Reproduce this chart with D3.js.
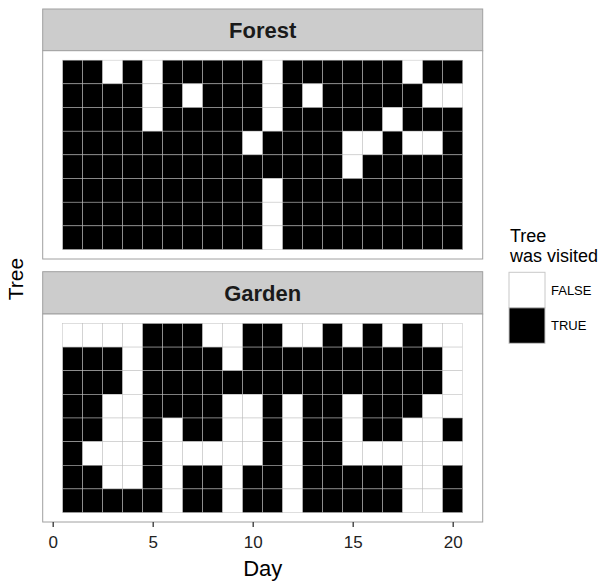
<!DOCTYPE html>
<html>
<head>
<meta charset="utf-8">
<style>
body { margin: 0; background: white; }
svg { display: block; font-family: "Liberation Sans", Arial, sans-serif; }
.tick text { fill: #222; }
</style>
</head>
<body>
<svg width="600" height="582"></svg>
<script src="https://d3js.org/d3.v7.min.js"></script>
<script>

// days on the x axis
var days = [1, 2, 3, 4, 5, 6, 7, 8, 9, 10, 11, 12, 13, 14, 15, 16, 17, 18, 19, 20];
var dayTicks = [0, 5, 10, 15, 20];
var sites = ["Forest", "Garden"];
var legendLabels = ["FALSE", "TRUE"];

// visited (1) or not (0), one row per tree, top row first
var forest = [
  [1,1,0,1,0,1,1,1,1,1,0,1,1,1,1,1,1,0,1,1],
  [1,1,1,1,0,1,0,1,1,1,0,1,0,1,1,1,1,1,0,0],
  [1,1,1,1,0,1,1,1,1,1,0,1,1,1,1,1,0,1,1,1],
  [1,1,1,1,1,1,1,1,1,0,1,1,1,1,0,0,1,0,0,1],
  [1,1,1,1,1,1,1,1,1,1,1,1,1,1,0,1,1,1,1,1],
  [1,1,1,1,1,1,1,1,1,1,0,1,1,1,1,1,1,1,1,1],
  [1,1,1,1,1,1,1,1,1,1,0,1,1,1,1,1,1,1,1,1],
  [1,1,1,1,1,1,1,1,1,1,0,1,1,1,1,1,1,1,1,1]
];

var garden = [
  [0,0,0,0,1,1,1,0,0,1,1,0,0,1,0,1,0,1,0,0],
  [1,1,1,0,1,1,1,1,0,1,1,1,1,1,1,1,1,1,1,0],
  [1,1,1,0,1,1,1,1,1,1,1,1,1,1,1,1,1,1,1,0],
  [1,1,0,0,1,1,1,1,0,0,1,0,1,1,0,1,1,1,0,0],
  [1,1,0,0,1,0,1,1,0,0,1,0,1,1,0,1,1,0,0,1],
  [1,0,0,0,1,0,0,0,0,0,1,0,1,1,0,0,0,0,0,0],
  [1,1,0,0,1,0,1,1,0,1,1,0,1,1,1,1,1,0,0,1],
  [1,1,1,1,1,0,1,1,0,1,1,0,1,1,1,1,1,0,0,1]
];

var svg = d3.select("svg");

var panelLeft = 42.7, panelRight = 482.7;
var panels = [
  { name: sites[0], rows: forest, stripTop: 9, top: 50.7, bottom: 259 },
  { name: sites[1], rows: garden, stripTop: 271.7, top: 314, bottom: 522 }
];

var x = d3.scaleLinear()
    .domain([-0.5, 21.5])
    .range([panelLeft, panelRight]);

var fill = d3.scaleOrdinal()
    .domain([0, 1])
    .range(["#ffffff", "#000000"]);

panels.forEach(function(p) {
  var nTrees = p.rows.length;
  var y = d3.scaleLinear()
      .domain([0.1, nTrees + 0.9])
      .range([p.bottom, p.top]);

  // strip
  svg.append("rect")
      .attr("x", panelLeft)
      .attr("y", p.stripTop)
      .attr("width", panelRight - panelLeft)
      .attr("height", p.top - p.stripTop)
      .attr("fill", "#cccccc")
      .attr("stroke", "#a0a0a0")
      .attr("stroke-width", 1);

  svg.append("text")
      .attr("x", (panelLeft + panelRight) / 2)
      .attr("y", (p.stripTop + p.top) / 2)
      .attr("dy", "0.36em")
      .attr("text-anchor", "middle")
      .attr("font-weight", "bold")
      .attr("font-size", 22)
      .attr("fill", "#1a1a1a")
      .text(p.name);

  // panel background
  svg.append("rect")
      .attr("x", panelLeft)
      .attr("y", p.top)
      .attr("width", panelRight - panelLeft)
      .attr("height", p.bottom - p.top)
      .attr("fill", "white");

  var cells = [];
  p.rows.forEach(function(row, i) {
    row.forEach(function(v, j) {
      cells.push({ day: days[j], tree: nTrees - i, visited: v });
    });
  });

  svg.append("g")
    .selectAll("rect")
    .data(cells)
    .enter().append("rect")
      .attr("x", function(d) { return x(d.day - 0.5); })
      .attr("y", function(d) { return y(d.tree + 0.5); })
      .attr("width", x(1) - x(0))
      .attr("height", y(0) - y(1))
      .attr("fill", function(d) { return fill(d.visited); })
      .attr("stroke", "#bebebe")
      .attr("stroke-width", 0.5);

  // panel border
  svg.append("rect")
      .attr("x", panelLeft)
      .attr("y", p.top)
      .attr("width", panelRight - panelLeft)
      .attr("height", p.bottom - p.top)
      .attr("fill", "none")
      .attr("stroke", "#a0a0a0")
      .attr("stroke-width", 1);
});

// x axis under the bottom panel
var axis = svg.append("g")
    .attr("transform", "translate(0," + panels[1].bottom + ")")
    .call(d3.axisBottom(x)
      .tickValues(dayTicks)
      .tickSize(5)
      .tickPadding(9));
axis.select(".domain").remove();
axis.selectAll(".tick line").attr("stroke", "#333").attr("stroke-width", 1.3);
axis.selectAll(".tick text")
    .attr("font-size", 17)
    .attr("font-family", "Liberation Sans, Arial, sans-serif");

svg.append("text")
    .attr("x", (panelLeft + panelRight) / 2)
    .attr("y", 575.7)
    .attr("text-anchor", "middle")
    .attr("font-size", 22)
    .text("Day");

svg.append("text")
    .attr("transform", "translate(23,279) rotate(-90)")
    .attr("text-anchor", "middle")
    .attr("font-size", 21)
    .text("Tree");

// legend
var legend = svg.append("g").attr("transform", "translate(509,0)");
legend.append("text")
    .attr("x", 1)
    .attr("y", 241.7)
    .attr("font-size", 18)
    .text("Tree");
legend.append("text")
    .attr("x", 1)
    .attr("y", 261.7)
    .attr("font-size", 18)
    .text("was visited");

legend.selectAll("rect.key")
  .data(legendLabels)
  .enter().append("rect")
    .attr("class", "key")
    .attr("x", 0)
    .attr("y", function(d, i) { return 272.3 + i * 35.5; })
    .attr("width", 36)
    .attr("height", 35.5)
    .attr("fill", function(d, i) { return fill(i); })
    .attr("stroke", "#c8c8c8")
    .attr("stroke-width", 1);

legend.selectAll("text.lab")
  .data(legendLabels)
  .enter().append("text")
    .attr("class", "lab")
    .attr("x", 42)
    .attr("y", function(d, i) { return 290 + i * 35.5; })
    .attr("dy", "0.36em")
    .attr("font-size", 13)
    .text(function(d) { return d; });

</script>
</body>
</html>
